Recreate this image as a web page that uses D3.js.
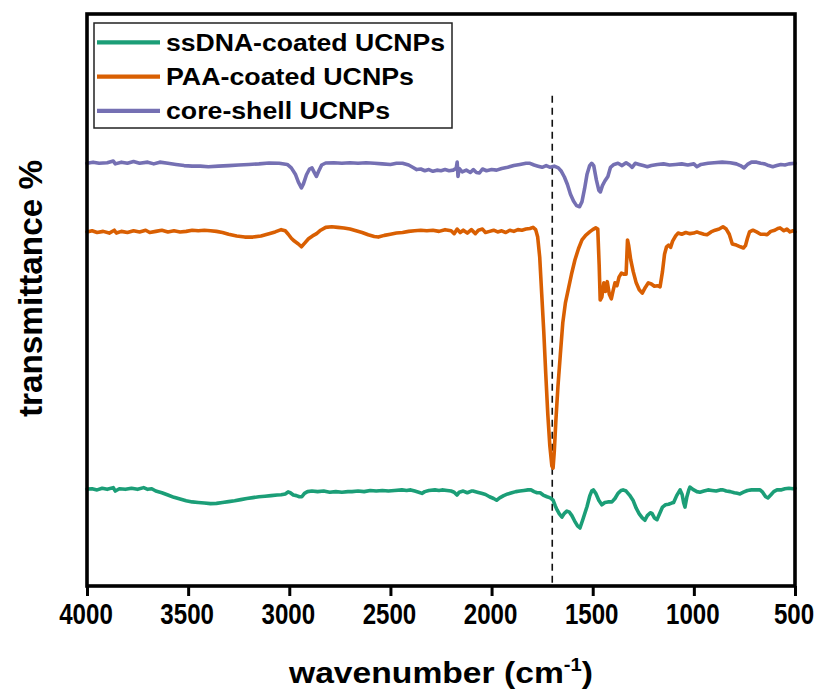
<!DOCTYPE html>
<html>
<head>
<meta charset="utf-8">
<script src="https://cdn.jsdelivr.net/npm/d3@7"></script>
<style>
  html, body { margin: 0; padding: 0; background: #fff; }
  svg { display: block; }
</style>
</head>
<body>
<svg id="chart" width="819" height="689"></svg>
<script>
// ---------- data ----------
const seriesNames = ["ssDNA-coated UCNPs", "PAA-coated UCNPs", "core-shell UCNPs"];
const seriesColors = ["#1b9e77", "#d95f02", "#7570b3"];
const xTicks = [4000, 3500, 3000, 2500, 2000, 1500, 1000, 500];
const markerWavenumber = 1700;
const markerTop = 85.7;

// [wavenumber (cm-1), transmittance (offset, arbitrary units)]
const coreShell = [[4000,73.9],[3970,74.1],[3940,73.9],[3900,74.0],[3870,74.3],[3860,73.8],[3830,74.1],[3800,73.9],[3770,74.2],[3740,73.9],[3700,74.1],[3670,73.8],[3640,74.1],[3600,73.9],[3560,73.7],[3520,73.5],[3480,73.4],[3440,73.4],[3400,73.3],[3350,73.4],[3300,73.5],[3250,73.6],[3200,73.7],[3150,73.8],[3100,73.95],[3050,73.9],[3010,73.7],[2990,73.1],[2970,72.0],[2955,70.6],[2940,69.6],[2930,70.3],[2915,71.9],[2900,72.9],[2888,73.1],[2878,72.4],[2866,71.6],[2855,72.5],[2840,73.6],[2820,73.95],[2780,74.0],[2740,73.9],[2700,74.0],[2660,73.9],[2620,74.0],[2580,73.9],[2540,73.8],[2500,73.7],[2470,73.9],[2440,73.9],[2410,73.6],[2390,73.2],[2370,72.8],[2350,72.9],[2330,72.6],[2310,72.8],[2290,72.5],[2270,72.7],[2250,72.6],[2230,72.8],[2210,72.6],[2190,72.7],[2175,73.0],[2170,74.1],[2166,71.6],[2160,73.0],[2145,72.4],[2125,72.7],[2105,72.3],[2090,72.8],[2075,72.3],[2060,72.2],[2045,72.9],[2025,72.6],[2000,72.8],[1975,72.7],[1950,73.0],[1920,73.2],[1890,73.5],[1860,73.7],[1830,73.9],[1810,73.9],[1790,73.6],[1770,73.4],[1750,73.2],[1730,73.5],[1710,73.2],[1690,73.4],[1670,73.1],[1655,72.5],[1640,71.5],[1625,70.2],[1610,68.5],[1595,67.3],[1580,66.5],[1565,66.3],[1553,67.2],[1540,69.5],[1528,72.0],[1515,73.5],[1505,73.9],[1495,73.5],[1482,71.0],[1470,69.2],[1462,68.9],[1452,70.0],[1440,70.8],[1425,71.6],[1412,73.2],[1395,73.7],[1375,73.9],[1355,73.5],[1335,74.0],[1318,73.6],[1305,73.2],[1290,73.9],[1270,73.7],[1250,73.5],[1230,73.3],[1210,73.5],[1180,73.7],[1150,73.8],[1120,73.6],[1090,73.7],[1060,73.8],[1030,73.6],[1000,73.8],[985,73.3],[965,73.7],[930,73.9],[900,74.0],[860,74.1],[820,74.0],[790,73.8],[770,73.5],[752,73.1],[735,73.7],[715,74.1],[690,74.1],[670,73.9],[650,73.8],[630,73.5],[610,73.3],[590,73.5],[570,73.7],[550,73.6],[530,73.8],[500,73.9]];

const paaCoated = [[4000,61.9],[3975,62.1],[3950,61.8],[3920,62.0],[3890,61.7],[3865,62.2],[3855,61.7],[3830,62.0],[3800,61.8],[3770,62.1],[3740,61.9],[3710,62.2],[3690,61.8],[3660,62.0],[3630,62.2],[3600,61.9],[3570,62.1],[3540,61.9],[3510,62.0],[3480,62.2],[3450,62.1],[3420,62.2],[3390,62.1],[3360,62.0],[3330,61.8],[3300,61.5],[3260,61.2],[3220,61.0],[3180,61.0],[3140,61.2],[3100,61.6],[3070,61.9],[3040,62.3],[3020,62.1],[3005,61.5],[2990,60.8],[2975,60.3],[2955,59.8],[2940,59.3],[2925,59.9],[2905,60.7],[2885,61.2],[2865,61.6],[2845,62.2],[2820,62.7],[2790,62.8],[2760,62.7],[2730,62.6],[2700,62.4],[2670,62.1],[2640,61.8],[2610,61.4],[2580,61.1],[2560,61.0],[2530,61.3],[2500,61.5],[2470,61.7],[2440,61.8],[2410,62.0],[2380,62.1],[2350,62.2],[2320,62.1],[2290,62.2],[2260,62.0],[2230,62.3],[2200,62.1],[2185,61.6],[2170,62.4],[2155,61.8],[2140,62.2],[2120,61.7],[2100,62.3],[2080,61.6],[2065,62.2],[2045,62.4],[2030,61.8],[2010,62.0],[1990,62.2],[1970,61.9],[1950,62.1],[1930,61.8],[1910,62.2],[1890,62.0],[1870,62.3],[1850,62.2],[1830,62.4],[1810,62.5],[1795,62.7],[1782,62.3],[1772,61.0],[1762,57.5],[1752,51.0],[1742,44.5],[1732,37.0],[1722,30.0],[1712,24.5],[1702,21.0],[1696,20.6],[1690,23.5],[1682,29.0],[1672,34.8],[1660,40.5],[1648,46.0],[1635,49.5],[1620,52.0],[1605,54.5],[1588,57.0],[1570,59.0],[1553,60.5],[1535,61.3],[1515,61.9],[1500,62.3],[1485,62.6],[1475,62.4],[1468,56.0],[1463,50.0],[1455,50.5],[1445,53.0],[1437,51.5],[1428,53.2],[1418,51.0],[1408,50.2],[1400,51.5],[1390,53.0],[1380,52.5],[1370,54.0],[1358,54.7],[1345,54.5],[1335,54.5],[1328,60.5],[1322,59.5],[1312,57.0],[1300,55.0],[1285,53.0],[1270,51.8],[1255,51.2],[1240,52.2],[1225,53.0],[1210,52.8],[1195,52.4],[1180,52.5],[1167,52.3],[1155,55.0],[1145,58.0],[1135,59.3],[1125,59.6],[1115,59.2],[1105,60.3],[1090,61.2],[1078,61.7],[1060,61.5],[1040,61.8],[1020,61.6],[1000,61.7],[985,61.9],[970,61.7],[950,61.5],[935,61.4],[915,61.9],[895,62.2],[875,62.4],[856,62.8],[840,62.4],[825,61.5],[810,59.8],[790,59.6],[770,59.3],[755,59.1],[745,59.5],[735,60.8],[725,61.9],[708,62.2],[690,61.9],[670,61.5],[650,61.5],[638,61.4],[620,62.0],[600,62.2],[585,62.5],[574,62.6],[555,62.1],[540,62.4],[525,61.9],[510,62.1],[500,61.9]];

const ssDNACoated = [[4000,16.96],[3975,17.0],[3950,16.8],[3925,17.1],[3900,16.9],[3870,17.2],[3860,16.6],[3840,17.0],[3810,16.9],[3780,17.1],[3750,16.9],[3720,17.2],[3700,16.9],[3680,17.0],[3660,16.6],[3630,16.3],[3600,15.9],[3570,15.5],[3540,15.2],[3510,14.9],[3480,14.7],[3450,14.6],[3420,14.5],[3390,14.4],[3360,14.45],[3330,14.6],[3300,14.75],[3270,14.9],[3240,15.1],[3210,15.3],[3180,15.45],[3150,15.6],[3120,15.7],[3090,15.8],[3060,15.9],[3040,15.95],[3020,16.1],[3006,16.45],[2995,16.3],[2980,15.9],[2965,15.8],[2950,15.6],[2938,15.6],[2925,16.2],[2910,16.5],[2888,16.6],[2860,16.5],[2830,16.6],[2800,16.4],[2770,16.5],[2740,16.4],[2710,16.5],[2690,16.5],[2660,16.6],[2630,16.5],[2600,16.7],[2570,16.6],[2540,16.7],[2510,16.6],[2480,16.7],[2443,16.8],[2420,16.7],[2400,16.8],[2380,16.6],[2360,16.4],[2344,16.2],[2330,16.5],[2310,16.7],[2280,16.8],[2260,16.7],[2245,16.8],[2220,16.7],[2200,16.6],[2185,16.4],[2171,15.9],[2160,16.4],[2140,16.6],[2120,16.3],[2100,16.6],[2092,16.6],[2070,16.4],[2050,16.2],[2030,16.0],[2010,15.6],[1990,15.3],[1975,15.0],[1960,15.4],[1940,15.8],[1920,16.1],[1900,16.3],[1880,16.5],[1860,16.6],[1840,16.7],[1820,16.8],[1805,16.8],[1790,16.5],[1775,16.3],[1760,16.3],[1745,15.9],[1726,15.6],[1710,15.4],[1696,15.0],[1685,14.0],[1676,13.3],[1665,12.6],[1652,12.06],[1640,12.7],[1628,13.1],[1615,12.9],[1603,12.3],[1590,11.4],[1575,10.5],[1563,10.14],[1550,11.5],[1540,12.6],[1528,13.9],[1515,15.7],[1505,16.6],[1497,16.8],[1485,16.2],[1470,15.0],[1455,14.2],[1440,14.6],[1425,14.7],[1405,14.7],[1390,15.3],[1375,16.2],[1360,16.7],[1350,16.8],[1335,16.6],[1318,15.9],[1301,15.0],[1285,13.6],[1270,12.6],[1255,11.9],[1242,11.5],[1230,12.3],[1215,12.8],[1207,12.7],[1195,11.9],[1182,11.6],[1170,12.6],[1155,13.8],[1140,14.2],[1125,14.3],[1110,14.5],[1100,14.6],[1085,15.8],[1068,16.8],[1058,16.0],[1050,14.5],[1044,13.8],[1035,15.5],[1025,16.8],[1019,17.3],[1005,16.9],[985,16.5],[970,16.4],[950,16.6],[930,16.8],[910,16.7],[890,16.6],[870,16.8],[856,16.8],[840,16.6],[820,16.5],[800,16.3],[785,16.2],[772,16.1],[755,16.4],[735,16.7],[715,16.8],[695,16.8],[673,16.8],[660,16.4],[645,15.6],[634,15.4],[620,15.9],[605,16.5],[589,16.8],[570,16.8],[550,17.0],[530,17.1],[510,17.0],[500,17.1]];

const seriesData = [ssDNACoated, paaCoated, coreShell];

// ---------- layout ----------
const svg = d3.select("#chart");
const plot = { left: 87, right: 795, top: 14, bottom: 586 };

const x = d3.scaleLinear().domain([4000, 500]).range([plot.left, plot.right]);
const y = d3.scaleLinear().domain([0, 100]).range([plot.bottom, plot.top]);

const line = d3.line().x(d => x(d[0])).y(d => y(d[1]));

// dashed marker line
svg.append("line")
  .attr("x1", x(markerWavenumber)).attr("x2", x(markerWavenumber))
  .attr("y1", y(markerTop)).attr("y2", y(0))
  .attr("stroke", "#111").attr("stroke-width", 1.6)
  .attr("stroke-dasharray", "7,5");

// series (draw order: orange, purple, green)
[1, 2, 0].forEach(i => {
  svg.append("path")
    .datum(seriesData[i])
    .attr("fill", "none")
    .attr("stroke", seriesColors[i])
    .attr("stroke-width", 3.6)
    .attr("stroke-linejoin", "round")
    .attr("stroke-linecap", "round")
    .attr("d", line);
});

// x axis
const xAxis = d3.axisBottom(x)
  .tickValues(xTicks)
  .tickSize(10)
  .tickSizeOuter(0)
  .tickFormat(d3.format("d"));

const gx = svg.append("g")
  .attr("transform", `translate(0,${plot.bottom})`)
  .call(xAxis);
gx.select(".domain").remove();
gx.selectAll(".tick line").attr("stroke", "#000").attr("stroke-width", 3);
gx.selectAll(".tick text")
  .attr("x", -1.5)
  .attr("y", 38).attr("dy", null)
  .attr("fill", "#000")
  .style("font-family", "'Liberation Sans Narrow', 'Arial Narrow', 'Liberation Sans', Arial, sans-serif")
  .style("font-weight", "bold")
  .style("font-size", "29px")
  .attr("textLength", d => String(d).length * 13.4)
  .attr("lengthAdjust", "spacingAndGlyphs");

// frame
svg.append("rect")
  .attr("x", plot.left).attr("y", plot.top)
  .attr("width", plot.right - plot.left).attr("height", plot.bottom - plot.top)
  .attr("fill", "none").attr("stroke", "#000").attr("stroke-width", 3.6);

// axis titles
const xTitle = svg.append("text")
  .attr("x", (plot.left + plot.right) / 2).attr("y", 683)
  .attr("text-anchor", "middle")
  .style("font-family", "'Liberation Sans', Arial, sans-serif")
  .style("font-weight", "bold").style("font-size", "30px")
  .attr("fill", "#000")
  .attr("textLength", 304).attr("lengthAdjust", "spacingAndGlyphs");
xTitle.append("tspan").text("wavenumber (cm");
xTitle.append("tspan").attr("dy", -12).style("font-size", "18px").text("-1");
xTitle.append("tspan").attr("dy", 12).text(")");

svg.append("text")
  .attr("transform", "translate(42,288.5) rotate(-90)")
  .attr("text-anchor", "middle")
  .style("font-family", "'Liberation Sans', Arial, sans-serif")
  .style("font-weight", "bold").style("font-size", "33px")
  .attr("fill", "#000")
  .attr("textLength", 257).attr("lengthAdjust", "spacingAndGlyphs")
  .text("transmittance %");

// legend
const legend = svg.append("g");
legend.append("rect")
  .attr("x", 94).attr("y", 23).attr("width", 358).attr("height", 105)
  .attr("fill", "#fff").attr("stroke", "#222").attr("stroke-width", 1.5);
const legendWidths = [279, 248, 224];
seriesNames.forEach((name, i) => {
  const cy = 42.3 + i * 34.3;
  legend.append("line")
    .attr("x1", 97).attr("x2", 160).attr("y1", cy).attr("y2", cy)
    .attr("stroke", seriesColors[i]).attr("stroke-width", 4.2);
  legend.append("text")
    .attr("x", 166).attr("y", cy + 8.5)
    .style("font-family", "'Liberation Sans', Arial, sans-serif")
    .style("font-weight", "bold").style("font-size", "23.5px")
    .attr("fill", "#000")
    .attr("textLength", legendWidths[i]).attr("lengthAdjust", "spacingAndGlyphs")
    .text(name);
});
</script>
</body>
</html>
